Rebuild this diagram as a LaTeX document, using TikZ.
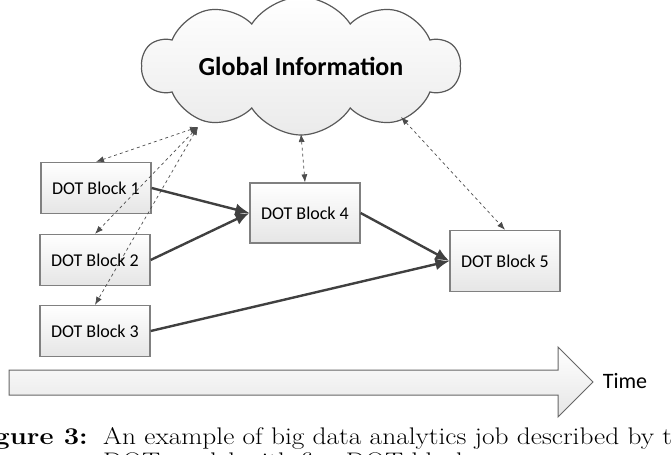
\documentclass[tikz,border=0pt]{standalone}
\usepackage{fontspec}
\usepackage{graphicx}
\newfontfamily\calibri{Carlito}
\usetikzlibrary{shapes, shapes.symbols, arrows.meta, positioning, calc}
\newcommand{\capwide}[1]{\scalebox{1.14}[1]{#1}}
\begin{document}
\begin{tikzpicture}[x=1pt, y=-1pt,
            blk/.style={rectangle, draw=black!50, line width=1.3pt, top color=white, bottom color=black!10,
                        minimum width=110pt, minimum height=51pt, inner sep=0pt, font=\calibri\fontsize{18}{20}\selectfont},
            ldir/.style={-{Latex[length=14pt, width=12pt]}, draw=black!75, line width=2.4pt},
            sync/.style={{Latex[length=8pt, width=6pt]}-{Latex[length=8pt, width=6pt]}, draw=black!70, dashed, line width=0.7pt},
            glob/.style={cloud, cloud puffs=10, cloud puff arc=115, cloud ignores aspect, draw=black!65, line width=1.2pt,
                         top color=white, bottom color=black!8, minimum width=318pt, minimum height=138pt,
                         font=\calibri\bfseries\fontsize{26}{28}\selectfont},
            capt/.style={inner sep=0pt, font=\fontsize{24}{28}\selectfont}]
            \useasboundingbox (0,0) rectangle (672,455);
            \node[glob] (gi) at (301,66) {Global Information};
            \node[blk] (b1) at (96,188) {DOT Block 1};
            \node[blk] (b2) at (95,260) {DOT Block 2};
            \node[blk] (b3) at (95,331) {DOT Block 3};
            \node[blk, minimum height=60pt] (b4) at (305,213) {DOT Block 4};
            \node[blk, minimum height=61pt] (b5) at (505,261) {DOT Block 5};
            \coordinate (gl) at (198,127);
            \coordinate (gm) at (301,134);
            \coordinate (gr) at (401,117);
            \draw[sync] (gl) -- (b1.north);
            \draw[sync] (gl) -- (b2.north);
            \draw[sync] (gl) -- (b3.north);
            \draw[sync] (gm) -- (b4.north);
            \draw[sync] (gr) -- (b5.north);
            \draw[ldir] (b1.east) -- (b4.west);
            \draw[ldir] (b2.east) -- (b4.west);
            \draw[ldir] (b4.east) -- (b5.west);
            \draw[ldir] (b3.east) -- (b5.west);
            \draw[draw=black!60, line width=1pt, top color=white, bottom color=black!10]
                (9,370) -- (558,370) -- (558,347) -- (593,382) -- (558,417) -- (558,395) -- (9,395) -- cycle;
            \node[font=\calibri\fontsize{22}{24}\selectfont] (tm) at (625,381) {Time};
            \node[capt, anchor=base east] (fig) at (88,444) {\capwide{\bfseries Figure 3:}};
            \node[capt, anchor=base west] (cap1) at (103,444)
                {\capwide{An example of big data analytics job described by the}};
            \node[capt, anchor=base west] (cap2) at (103,469)
                {\capwide{DOT model with five DOT blocks.}};
        \end{tikzpicture}
\end{document}
